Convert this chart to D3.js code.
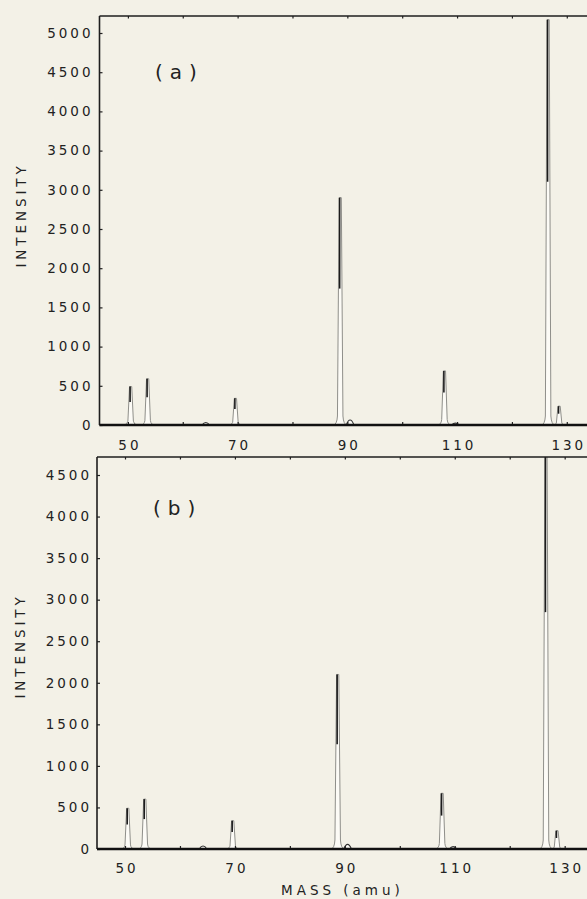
<!DOCTYPE html>
<html>
<head>
<meta charset="utf-8">
<script src="https://cdn.jsdelivr.net/npm/d3@7"></script>
<style>
  html, body { margin: 0; padding: 0; background: #f3f1e7; }
  svg { display: block; }
  text { font-family: "DejaVu Sans", sans-serif; fill: #222; }
</style>
</head>
<body>
<svg id="chart" width="587" height="899"></svg>
<script>
// Main peaks (mass in amu) and their intensities in the two spectra
const peakMass   = [50.5, 53.6, 69.6, 88.7, 107.7, 126.6, 128.6];
const intensityA = [490, 590, 340, 2900, 690, 5170, 240];
const intensityB = [490, 600, 340, 2100, 670, 4750, 220];

// Weak features along the baseline
const minorMass = [64.2, 90.5, 109.7];
const minorA    = [40, 80, 30];
const minorB    = [45, 70, 35];

// Axis ticks
const massTicks   = [50, 60, 70, 80, 90, 100, 110, 120, 130];
const massLabels  = [50, 70, 90, 110, 130];
const yTicksA     = [0, 500, 1000, 1500, 2000, 2500, 3000, 3500, 4000, 4500, 5000];
const yTicksB     = [0, 500, 1000, 1500, 2000, 2500, 3000, 3500, 4000, 4500];

const svg = d3.select("#chart");
const W = 587;

function drawPanel(cfg) {
  const g = svg.append("g");
  const xMin = 50 - (cfg.x50 - cfg.left) / cfg.ppa;
  const xMax = 140;
  const x = d3.scaleLinear().domain([xMin, xMax])
    .range([cfg.left, cfg.left + (xMax - xMin) * cfg.ppa]);
  const topTick = cfg.yTicks[cfg.yTicks.length - 1];
  const y = d3.scaleLinear().domain([0, topTick]).range([cfg.zeroY, cfg.topTickY]);

  const clipId = "clip" + cfg.name;
  svg.append("clipPath").attr("id", clipId).append("rect")
    .attr("x", cfg.left).attr("y", cfg.frameTop)
    .attr("width", W - cfg.left).attr("height", cfg.zeroY - cfg.frameTop);

  const plot = g.append("g").attr("clip-path", `url(#${clipId})`);

  // Peak outline: narrow spike with a flared foot
  function peakPath(m, v) {
    const h = y(0) - y(v);
    const sh = Math.min(h * 0.1, 9);
    const p = d3.path();
    const b = y(0);
    p.moveTo(x(m - 1.3), b);
    p.quadraticCurveTo(x(m - 0.6), b, x(m - 0.5), b - sh);
    p.lineTo(x(m - 0.2), y(v));
    p.lineTo(x(m + 0.2), y(v));
    p.lineTo(x(m + 0.5), b - sh);
    p.quadraticCurveTo(x(m + 0.6), b, x(m + 1.3), b);
    return p.toString();
  }

  const peaks = cfg.values.map((v, i) => ({ m: peakMass[i], v }));
  plot.selectAll("path.peak").data(peaks).join("path")
    .attr("class", "peak")
    .attr("d", d => peakPath(d.m, d.v))
    .attr("fill", "#fcfbf6")
    .attr("stroke", "#8f8f8a")
    .attr("stroke-width", 1);

  // dark trace near each peak top
  plot.selectAll("line.core").data(peaks).join("line")
    .attr("class", "core")
    .attr("x1", d => x(d.m - 0.1)).attr("x2", d => x(d.m - 0.1))
    .attr("y1", d => y(d.v))
    .attr("y2", d => y(d.v * 0.6))
    .attr("stroke", "#1c1c1c")
    .attr("stroke-width", 1.6);

  const minors = cfg.minor.map((v, i) => ({ m: minorMass[i], v }));
  plot.selectAll("path.minor").data(minors).join("path")
    .attr("class", "minor")
    .attr("d", d => {
      const p = d3.path();
      p.moveTo(x(d.m - 0.7), y(0));
      p.quadraticCurveTo(x(d.m), y(d.v * 1.6), x(d.m + 0.7), y(0));
      return p.toString();
    })
    .attr("fill", "#fcfbf6")
    .attr("stroke", "#333")
    .attr("stroke-width", 1.1);

  // Left axis
  const yAxis = d3.axisLeft(y).tickValues(cfg.yTicks).tickSize(-3).tickPadding(cfg.yPad)
    .tickFormat(d3.format("d"));
  const ya = g.append("g").attr("transform", `translate(${cfg.left},0)`).call(yAxis);
  ya.select(".domain").remove();
  ya.selectAll(".tick line").attr("stroke", "#222").attr("stroke-width", 1.2);
  ya.selectAll(".tick text")
    .attr("font-size", 13.5).attr("letter-spacing", 3)
    .style("font-family", "DejaVu Sans").attr("fill", "#222");

  // Bottom axis
  const xAxis = d3.axisBottom(x).tickValues(massTicks).tickSize(-3).tickPadding(cfg.xPad)
    .tickFormat(d => massLabels.includes(d) ? d : "");
  const xa = g.append("g").attr("transform", `translate(0,${cfg.zeroY})`).call(xAxis);
  xa.select(".domain").remove();
  xa.selectAll(".tick line").attr("stroke", "#222").attr("stroke-width", 1.2);
  xa.selectAll(".tick text")
    .attr("font-size", 13.5).attr("letter-spacing", 3)
    .attr("dx", 1.5)
    .style("font-family", "DejaVu Sans").attr("fill", "#222");

  // Top frame ticks
  const tAxis = d3.axisTop(x).tickValues(massTicks).tickSize(-2.5).tickFormat("");
  const ta = g.append("g").attr("transform", `translate(0,${cfg.frameTop})`).call(tAxis);
  ta.select(".domain").remove();
  ta.selectAll(".tick line").attr("stroke", "#222").attr("stroke-width", 1.2);

  // Frame
  g.append("line").attr("x1", cfg.left).attr("x2", W)
    .attr("y1", cfg.frameTop).attr("y2", cfg.frameTop)
    .attr("stroke", "#1e1e1e").attr("stroke-width", 1.6);
  g.append("line").attr("x1", cfg.left).attr("x2", cfg.left)
    .attr("y1", cfg.frameTop).attr("y2", cfg.zeroY)
    .attr("stroke", "#1e1e1e").attr("stroke-width", 1.6);
  g.append("line").attr("x1", cfg.left).attr("x2", W)
    .attr("y1", cfg.zeroY).attr("y2", cfg.zeroY)
    .attr("stroke", "#111").attr("stroke-width", 2.4);

  // Axis title
  g.append("text")
    .attr("transform", `translate(${cfg.titleX},${cfg.titleY}) rotate(-90)`)
    .attr("text-anchor", "middle")
    .attr("dominant-baseline", "central")
    .attr("font-size", 13.5).attr("letter-spacing", 3.9)
    .attr("dx", 2)
    .text("INTENSITY");

  // Panel tag
  g.append("text")
    .attr("x", cfg.tagX).attr("y", cfg.tagY)
    .attr("dominant-baseline", "central")
    .attr("font-size", 20).attr("letter-spacing", 7)
    .attr("fill", "#4a4a4a")
    .text(cfg.tag);

  return x;
}

drawPanel({
  name: "A", tag: "(a)", values: intensityA, minor: minorA, yTicks: yTicksA,
  left: 99.5, x50: 127.9, ppa: 5.486,
  zeroY: 425, topTickY: 33, frameTop: 16,
  yPad: 6, xPad: 15,
  titleX: 21, titleY: 217, tagX: 155, tagY: 72
});

drawPanel({
  name: "B", tag: "(b)", values: intensityB, minor: minorB, yTicks: yTicksB,
  left: 97, x50: 125, ppa: 5.496,
  zeroY: 849, topTickY: 475, frameTop: 457,
  yPad: 5, xPad: 14,
  titleX: 20, titleY: 648, tagX: 153, tagY: 508
});

svg.append("text")
  .attr("x", 281).attr("y", 895)
  .attr("font-size", 13.5).attr("letter-spacing", 4)
  .text("MASS (amu)");
</script>
</body>
</html>
